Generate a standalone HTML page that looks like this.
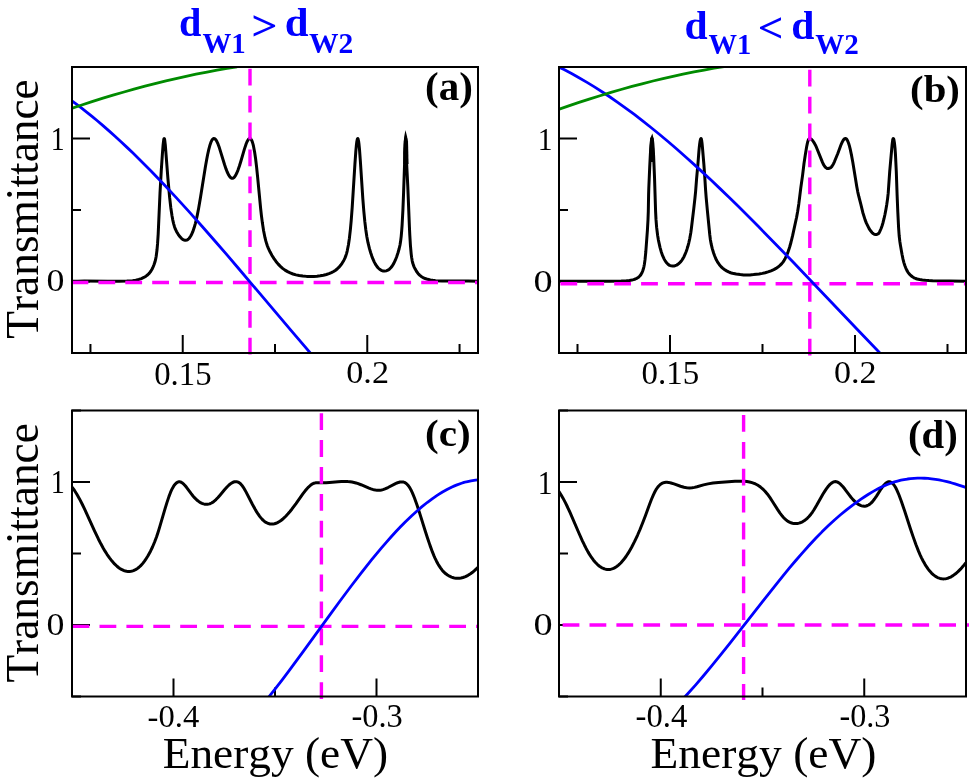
<!DOCTYPE html>
<html><head><meta charset="utf-8"><style>
html,body{margin:0;padding:0;background:#fff;}
body{width:969px;height:778px;overflow:hidden;}
svg{display:block;will-change:transform;}
</style></head><body>
<svg width="969" height="778" viewBox="0 0 969 778">
<rect width="969" height="778" fill="#fff"/>
<defs>
<clipPath id="cla"><rect x="72" y="67" width="406" height="286"/></clipPath>
<clipPath id="clb"><rect x="559" y="67" width="407" height="286"/></clipPath>
<clipPath id="clc"><rect x="72" y="410.5" width="406" height="286.0"/></clipPath>
<clipPath id="cld"><rect x="559" y="410.5" width="407" height="286.0"/></clipPath>
</defs>
<line x1="72" y1="353" x2="81" y2="353" stroke="#000" stroke-width="2"/>
<line x1="72" y1="281.5" x2="90" y2="281.5" stroke="#000" stroke-width="2"/>
<line x1="72" y1="210" x2="81" y2="210" stroke="#000" stroke-width="2"/>
<line x1="72" y1="138.5" x2="90" y2="138.5" stroke="#000" stroke-width="2"/>
<line x1="72" y1="67" x2="81" y2="67" stroke="#000" stroke-width="2"/>
<line x1="90.45" y1="353" x2="90.45" y2="344" stroke="#000" stroke-width="2"/>
<line x1="182.73" y1="353" x2="182.73" y2="335" stroke="#000" stroke-width="2"/>
<line x1="275" y1="353" x2="275" y2="344" stroke="#000" stroke-width="2"/>
<line x1="367.27" y1="353" x2="367.27" y2="335" stroke="#000" stroke-width="2"/>
<line x1="459.55" y1="353" x2="459.55" y2="344" stroke="#000" stroke-width="2"/>
<line x1="559" y1="353" x2="568" y2="353" stroke="#000" stroke-width="2"/>
<line x1="559" y1="281.5" x2="577" y2="281.5" stroke="#000" stroke-width="2"/>
<line x1="559" y1="210" x2="568" y2="210" stroke="#000" stroke-width="2"/>
<line x1="559" y1="138.5" x2="577" y2="138.5" stroke="#000" stroke-width="2"/>
<line x1="559" y1="67" x2="568" y2="67" stroke="#000" stroke-width="2"/>
<line x1="577.5" y1="353" x2="577.5" y2="344" stroke="#000" stroke-width="2"/>
<line x1="670" y1="353" x2="670" y2="335" stroke="#000" stroke-width="2"/>
<line x1="762.5" y1="353" x2="762.5" y2="344" stroke="#000" stroke-width="2"/>
<line x1="855" y1="353" x2="855" y2="335" stroke="#000" stroke-width="2"/>
<line x1="947.5" y1="353" x2="947.5" y2="344" stroke="#000" stroke-width="2"/>
<line x1="72" y1="696.5" x2="81" y2="696.5" stroke="#000" stroke-width="2"/>
<line x1="72" y1="625" x2="90" y2="625" stroke="#000" stroke-width="2"/>
<line x1="72" y1="553.5" x2="81" y2="553.5" stroke="#000" stroke-width="2"/>
<line x1="72" y1="482" x2="90" y2="482" stroke="#000" stroke-width="2"/>
<line x1="72" y1="410.5" x2="81" y2="410.5" stroke="#000" stroke-width="2"/>
<line x1="173.5" y1="696.5" x2="173.5" y2="678.5" stroke="#000" stroke-width="2"/>
<line x1="275" y1="696.5" x2="275" y2="687.5" stroke="#000" stroke-width="2"/>
<line x1="376.5" y1="696.5" x2="376.5" y2="678.5" stroke="#000" stroke-width="2"/>
<line x1="559" y1="696.5" x2="568" y2="696.5" stroke="#000" stroke-width="2"/>
<line x1="559" y1="625" x2="577" y2="625" stroke="#000" stroke-width="2"/>
<line x1="559" y1="553.5" x2="568" y2="553.5" stroke="#000" stroke-width="2"/>
<line x1="559" y1="482" x2="577" y2="482" stroke="#000" stroke-width="2"/>
<line x1="559" y1="410.5" x2="568" y2="410.5" stroke="#000" stroke-width="2"/>
<line x1="660.75" y1="696.5" x2="660.75" y2="678.5" stroke="#000" stroke-width="2"/>
<line x1="762.5" y1="696.5" x2="762.5" y2="687.5" stroke="#000" stroke-width="2"/>
<line x1="864.25" y1="696.5" x2="864.25" y2="678.5" stroke="#000" stroke-width="2"/>
<g clip-path="url(#cla)">
<path d="M70 281.38 L77.8 281.14 L84.4 281.07 L107.8 281.33 L119 281.33 L126.8 281.11 L129.8 280.91 L132.6 280.63 L135.8 280.13 L138.8 279.42 L141.4 278.55 L143.8 277.46 L146 276.17 L147.8 274.76 L149.4 273.12 L150.8 271.25 L152 269.23 L153 267.18 L154 264.73 L155 261.77 L155.6 259.44 L156.2 256.28 L157 250.05 L157.6 243.18 L158.2 233.79 L160 193.23 L161.3 170.18 L162.4 153.93 L163.1 144.95 L163.7 139.89 L164 138.72 L164.2 138.5 L164.4 138.74 L164.7 139.92 L165.3 144.9 L167.9 178.4 L169.6 197.2 L170.8 207.69 L172 215.84 L172.8 220.11 L173.6 223.58 L174.4 226.39 L175.4 229.15 L176.6 231.67 L178.2 234.35 L179.8 236.59 L181.4 238.36 L182.4 239.2 L183.2 239.72 L184.2 240.15 L185 240.32 L185.8 240.32 L186.6 240.15 L187.4 239.79 L188.2 239.23 L189 238.47 L189.8 237.49 L190.6 236.28 L191.4 234.83 L192.8 231.65 L194.2 227.59 L195.4 223.36 L196.4 219.27 L197.4 214.65 L198.6 208.46 L200.6 196.86 L205.4 166.8 L206.6 159.95 L207.6 154.77 L208.8 149.33 L210 144.91 L211.1 141.84 L211.7 140.58 L212.2 139.76 L212.7 139.15 L213.3 138.68 L213.9 138.5 L214.5 138.61 L215.1 138.98 L215.7 139.6 L216.3 140.45 L216.9 141.53 L218 143.98 L219.4 147.83 L224.6 164.77 L226 168.91 L227.2 172 L228.6 174.94 L229.8 176.78 L230.4 177.45 L231 177.94 L231.6 178.23 L232.2 178.34 L232.6 178.3 L233.2 178.09 L233.8 177.68 L234.4 177.1 L235.6 175.39 L236.8 173.04 L238 170.09 L239.4 166.04 L240.8 161.49 L244.4 149.12 L246.2 143.77 L247.3 141.21 L248.3 139.54 L248.8 138.98 L249.2 138.68 L249.7 138.51 L250.1 138.54 L250.7 138.89 L251.3 139.63 L251.9 140.8 L252.4 142.11 L253 144.11 L253.5 146.16 L254.6 151.93 L255.6 158.75 L256.6 167.08 L257.6 176.79 L260.6 208.11 L261.4 215.32 L262.4 223.1 L263.6 230.76 L265 237.7 L265.8 240.88 L266.6 243.6 L267.4 245.94 L268.4 248.43 L270 251.79 L272 255.45 L274 258.66 L276 261.47 L278.2 264.13 L280.4 266.41 L282.6 268.34 L285 270.1 L287.6 271.66 L290.2 272.92 L293 273.98 L296 274.86 L299.2 275.54 L302.8 276.06 L306.6 276.38 L310.4 276.48 L313.8 276.4 L317 276.16 L320.2 275.76 L323.4 275.18 L326.4 274.45 L329 273.64 L331.4 272.67 L333.6 271.53 L335.6 270.22 L337.4 268.75 L339 267.17 L340.6 265.29 L342.2 263.06 L343.8 260.4 L344.8 258.4 L345.8 255.89 L346.6 253.34 L347.2 251.02 L348.4 244.99 L349.4 238.18 L350.4 229.34 L351.2 220.56 L352.2 207.33 L354.9 164.4 L355.8 151.67 L356.3 146.02 L356.8 141.79 L357.3 139.24 L357.5 138.72 L357.7 138.51 L357.9 138.59 L358.1 138.98 L358.6 141.25 L359 144.31 L359.5 149.51 L360.3 160.25 L362.8 198.37 L363.8 211 L364.8 221.42 L365.8 229.79 L366.8 236.44 L368 242.69 L369.4 248.38 L370.6 252.49 L371.8 256.09 L373 259.21 L374.2 261.87 L375.4 264.12 L376.8 266.28 L378.2 267.98 L379.6 269.27 L381.2 270.31 L382.8 270.92 L383.6 271.07 L384.6 271.12 L386.2 270.88 L387.8 270.23 L389.4 269.14 L390.8 267.78 L392.2 266 L393.8 263.36 L395.2 260.46 L396.6 256.93 L398 252.72 L399.2 248.5 L400 244.97 L400.6 241.33 L401.2 236.31 L401.7 230.7 L402.1 225.04 L402.9 210 L403.6 192.46 L405.2 145.74 L405.5 139.83 L405.6 138.81 L405.7 138.51 L405.8 139.05 L406 142.79 L406.7 164.77 L407.8 186.66 L409.4 226.67 L409.8 235.09 L410.4 245.02 L411.2 254.09 L411.6 257.27 L412.2 260.82 L412.8 263.31 L413.4 265.13 L414.2 267.05 L415.2 269.11 L416.6 271.5 L418 273.41 L419.6 275.11 L421.2 276.42 L423 277.53 L425.2 278.53 L427.6 279.31 L430.4 279.95 L432.8 280.33 L435.6 280.64 L442.2 281 L449.6 281.1 L468.2 281.05 L479.8 281.37" fill="none" stroke="#000" stroke-width="3.0" stroke-linejoin="round"/>
<path d="M71.5 282.5 L478 282.5" fill="none" stroke="#ff00ff" stroke-width="3.4" stroke-linejoin="round" stroke-dasharray="16.8 10.1"/>
</g>
<path d="M250 68.8 L250 356" fill="none" stroke="#ff00ff" stroke-width="3.4" stroke-linejoin="round" stroke-dasharray="16.8 10.1"/>
<g clip-path="url(#cla)">
<path d="M70 99.46 L75 103.12 L81 107.65 L86 111.55 L92 116.38 L97 120.51 L103 125.61 L109 130.85 L115 136.22 L121 141.73 L127 147.36 L133 153.11 L139 158.97 L151 171.03 L164 184.54 L176 197.38 L189 211.65 L202 226.23 L216 242.22 L227 254.96 L239 268.99 L291 330.39 L315 358.42" fill="none" stroke="#0000ff" stroke-width="2.8" stroke-linejoin="round"/>
<path d="M70 108.91 L81 105.22 L92 101.66 L103 98.21 L113 95.18 L124 91.97 L134 89.17 L145 86.2 L155 83.62 L166 80.91 L176 78.57 L186 76.34 L196 74.22 L207 72.02 L217 70.15 L227 68.4 L237 66.77" fill="none" stroke="#008b00" stroke-width="2.8" stroke-linejoin="round"/>
<polygon points="403.3,164 403.2,151.7 403.7,141.4 404.3,136.3 405.4,130.1 407,136.3 408,141.4 408.3,151.7 408.5,164" fill="#000"/>
</g>
<g clip-path="url(#clb)">
<path d="M557 281.3 L610.2 281.14 L621.2 280.99 L626.4 280.71 L629.4 280.41 L631.8 280.07 L633.6 279.63 L635.4 278.99 L637.2 278.1 L638.6 277.15 L639.8 276.01 L641 274.47 L641.8 273.11 L642.6 271.27 L643.4 268.77 L644 266.35 L644.4 264.19 L645 259.9 L645.8 251.99 L647.4 230.4 L648 219.73 L648.3 211.5 L648.6 194.9 L648.8 188.32 L649.7 167.42 L650.3 155.38 L650.8 147.28 L651.2 142.52 L651.6 139.53 L651.8 138.76 L652 138.5 L652.2 138.77 L652.4 139.58 L652.8 142.88 L653.2 148.32 L653.6 155.55 L654.5 177.04 L655.6 211.5 L656 219.38 L656.6 227.14 L657.6 235.26 L658.4 240.11 L660 247.31 L661.2 251.68 L662.6 255.71 L664.2 259.12 L665 260.55 L665.8 261.78 L666.6 262.79 L668 264.24 L668.8 264.91 L669.6 265.38 L671.2 265.88 L672.6 266.1 L673.8 266 L675 265.68 L676.6 265.08 L677.8 264.38 L679.2 263.25 L680.8 261.65 L682 260.07 L683.2 258.15 L684 256.67 L685 254.49 L686.2 251.47 L687 249.18 L687.8 246.56 L688.8 242.77 L689.8 238.31 L690.8 232.75 L691.4 228.28 L693.8 208.33 L695 197.67 L695.6 191.6 L696.6 178.63 L697.9 164.48 L698.9 151.38 L699.3 147.08 L699.7 143.66 L700.1 141.07 L700.5 139.33 L700.7 138.81 L700.9 138.54 L701.1 138.54 L701.3 138.86 L701.6 140.03 L702 142.91 L702.4 146.91 L703.9 164.64 L704.8 177.4 L705.6 190.18 L706.2 197.89 L707.4 210.98 L709.8 234.98 L710.4 239.75 L711.2 244.17 L712.2 248.42 L713.6 253.01 L714.6 255.8 L715.6 258.25 L716.6 260.35 L717.8 262.45 L719.4 264.71 L721 266.6 L722.6 268.15 L724.4 269.5 L726.6 270.87 L728.6 271.92 L730.6 272.75 L732.4 273.3 L736.2 274.02 L740.2 274.59 L743.6 274.9 L746.8 275 L750 274.91 L753.6 274.61 L759 273.94 L762.4 273.39 L765.2 272.74 L768 271.9 L771 270.8 L773.8 269.59 L776 268.39 L778 267.05 L780 265.4 L781.8 263.61 L782.8 262.4 L784 260.59 L785.2 258.43 L786.4 255.94 L787.6 253.14 L788.6 250.36 L789.8 246.52 L791 242.26 L792.6 235.63 L796.6 217.28 L797.6 211.83 L798.8 203.91 L800.8 187.9 L802.6 175.12 L804 163.55 L805.2 155.57 L806.6 147.05 L807.4 143.1 L807.9 141.23 L808.4 139.8 L808.9 138.92 L809.4 138.55 L809.9 138.52 L810.4 138.67 L811 139.03 L811.6 139.51 L812.8 140.77 L814 142.55 L815.2 144.68 L816.4 147.22 L822.4 162.16 L823.4 164.36 L824.6 166.22 L825.6 167.42 L826 167.76 L826.8 168.27 L827.4 168.54 L827.8 168.6 L828.4 168.54 L829.2 168.32 L830.2 167.87 L831 167.39 L831.4 167 L832 166.22 L833.4 163.92 L834.4 161.78 L837.8 153.45 L841.2 144.32 L842.3 141.89 L843.2 140.3 L844.2 139.07 L844.7 138.7 L845.1 138.54 L845.6 138.52 L846 138.65 L846.5 139.03 L846.9 139.51 L847.7 140.92 L848.6 143.26 L849.4 145.94 L850.4 149.95 L851.6 155.65 L852.8 162.15 L856.8 186.67 L857.8 192.08 L858.8 196.47 L860.8 204.19 L862.8 212.47 L865.2 220.11 L866.4 223.14 L869 228.38 L869.6 229.4 L870.6 230.82 L872.2 232.76 L872.8 233.32 L873.4 233.74 L874.6 234.36 L875.4 234.59 L876.2 234.55 L877 234.32 L878 233.87 L878.6 233.46 L879 232.95 L879.6 231.88 L881 228.74 L882 225.99 L883 222.7 L884 218.74 L885 214.2 L886 208.97 L886.8 204.23 L887.6 198.59 L888.2 193.2 L889.7 171.7 L892.1 144.61 L892.7 140 L893 138.86 L893.1 138.66 L893.3 138.5 L893.6 138.82 L893.9 139.75 L894.5 143.32 L895 148.2 L895.5 155.2 L896.3 171.77 L897.1 194.7 L897.8 211.86 L898.6 227.85 L899.2 236.04 L899.8 241.2 L900.4 245.13 L902 254.27 L903 259.17 L903.8 262.37 L904.8 265.47 L905.8 268.07 L907 270.62 L908 272.32 L909.2 273.89 L910.8 275.48 L912.4 276.77 L914 277.77 L915.6 278.51 L917.2 279.01 L919.6 279.49 L922.4 279.91 L925.4 280.24 L928.8 280.5 L932.6 280.68 L949.4 281.08 L967.8 281.2" fill="none" stroke="#000" stroke-width="3.0" stroke-linejoin="round"/>
<path d="M560.4 283.8 L966 283.8" fill="none" stroke="#ff00ff" stroke-width="3.4" stroke-linejoin="round" stroke-dasharray="16.8 10.1"/>
</g>
<path d="M809.8 69.8 L809.8 356" fill="none" stroke="#ff00ff" stroke-width="3.4" stroke-linejoin="round" stroke-dasharray="16.8 10.1"/>
<g clip-path="url(#clb)">
<path d="M557 66.15 L564 69.61 L572 73.8 L579 77.68 L587 82.34 L594 86.61 L602 91.7 L610 97.02 L618 102.56 L626 108.3 L634 114.24 L642 120.38 L651 127.49 L659 134.01 L668 141.54 L677 149.27 L686 157.19 L694 164.38 L703 172.63 L711 180.1 L720 188.64 L729 197.31 L738 206.12 L748 216.03 L758 226.08 L775 243.4 L794 263.06 L813 282.92 L860 332.29 L885 358.28" fill="none" stroke="#0000ff" stroke-width="2.8" stroke-linejoin="round"/>
<path d="M557 109.98 L568 106.15 L579 102.44 L590 98.87 L600 95.73 L611 92.41 L621 89.51 L632 86.45 L642 83.8 L653 81.01 L663 78.6 L673 76.31 L683 74.15 L694 71.91 L704 70.01 L714 68.24 L724 66.59" fill="none" stroke="#008b00" stroke-width="2.8" stroke-linejoin="round"/>
<polygon points="649,162 649.5,148.6 650.3,138.3 652.3,133.4 653.5,138.3 654.1,148.6 654.5,162" fill="#000"/>
</g>
<g clip-path="url(#clc)">
<path d="M70 484.83 L72 487.07 L73 488.35 L74.5 490.46 L77 494.43 L79.5 498.9 L82 503.76 L84.5 508.92 L94.5 530.81 L98.5 539.21 L101 544.09 L103 547.74 L105 551.14 L107 554.3 L109.5 557.89 L112 561.09 L114.5 563.88 L117 566.25 L118.5 567.46 L119.5 568.19 L121 569.15 L122 569.7 L123.5 570.39 L124.5 570.76 L126.5 571.28 L128 571.47 L129.5 571.48 L131 571.32 L132 571.11 L133.5 570.63 L135 569.97 L136.5 569.12 L137.5 568.44 L139 567.26 L140.5 565.87 L142 564.28 L143 563.1 L144.5 561.15 L145.5 559.73 L148 555.76 L150.5 551.16 L152.5 546.99 L154.5 542.27 L156.5 536.92 L158 532.45 L159.5 527.65 L165 508.9 L167 502.36 L169 496.39 L170.5 492.46 L171.5 490.17 L172.5 488.15 L173.5 486.41 L174.5 484.95 L175.5 483.77 L176.5 482.87 L177.5 482.24 L178 482.03 L179 481.81 L180 481.87 L180.5 482 L181.5 482.43 L182.5 483.08 L184 484.4 L185 485.47 L186.5 487.29 L191 493.4 L193 495.95 L194.5 497.66 L195.5 498.7 L197.5 500.53 L199 501.67 L200 502.33 L201 502.89 L202 503.37 L203.5 503.9 L204.5 504.14 L205.5 504.28 L206.5 504.32 L207.5 504.27 L208.5 504.11 L209.5 503.84 L210.5 503.47 L211.5 503 L212.5 502.41 L213.5 501.72 L214.5 500.92 L216 499.54 L218 497.45 L220 495.16 L224.5 489.78 L227 487 L229 485.04 L231 483.44 L232 482.8 L233 482.29 L234.5 481.79 L235.5 481.64 L236.5 481.67 L237.5 481.88 L238 482.06 L239 482.57 L239.5 482.91 L240.5 483.74 L242 485.43 L243.5 487.58 L244.5 489.21 L246 491.89 L252.5 504.49 L255 509.08 L256.5 511.62 L258 513.96 L259.5 516.09 L260.5 517.38 L262 519.11 L263 520.11 L264.5 521.39 L266 522.41 L267 522.95 L268.5 523.55 L270 523.92 L271.5 524.07 L273 524 L274.5 523.73 L276 523.27 L277.5 522.62 L279 521.8 L281 520.45 L282.5 519.26 L284.5 517.47 L286 515.98 L288 513.81 L290 511.47 L292 508.96 L296 503.59 L303 493.69 L305 491.05 L306.5 489.22 L308.5 487.04 L310.5 485.24 L311.5 484.51 L312.5 483.9 L314 483.23 L315.5 482.85 L317 482.68 L318.5 482.65 L322.5 482.74 L326 482.66 L329.5 482.45 L338 481.76 L341.5 481.56 L346 481.52 L348 481.62 L350 481.79 L352 482.07 L354 482.45 L356 482.95 L357.5 483.41 L361 484.73 L369 488.16 L371 488.9 L372.5 489.38 L374 489.78 L375.5 490.08 L377 490.26 L378.5 490.32 L380 490.24 L381.5 489.99 L383 489.61 L385 488.9 L388 487.54 L395.5 483.67 L397 482.99 L398.5 482.43 L400 482.03 L401 481.88 L402.5 481.9 L403.5 482.09 L404.5 482.44 L405 482.69 L406 483.33 L407 484.17 L408 485.25 L409 486.57 L410 488.15 L411 489.98 L412.5 493.13 L414.5 498.01 L417 504.97 L419.5 512.6 L425 530.2 L427.5 538 L430 545.38 L432.5 552.15 L434 555.83 L435 558.11 L436.5 561.22 L438 564 L439 565.68 L440.5 567.94 L442 569.92 L443.5 571.64 L445.5 573.55 L447.5 575.06 L449.5 576.24 L451.5 577.11 L453.5 577.73 L454.5 577.95 L456 578.17 L457 578.24 L458.5 578.24 L459.5 578.16 L461 577.95 L463 577.47 L465.5 576.56 L468 575.31 L470.5 573.75 L472.5 572.27 L475 570.15 L477.5 567.73 L480 565.03" fill="none" stroke="#000" stroke-width="3.0" stroke-linejoin="round"/>
<path d="M72.6 626.4 L478 626.4" fill="none" stroke="#ff00ff" stroke-width="3.4" stroke-linejoin="round" stroke-dasharray="16.8 10.1"/>
</g>
<path d="M321.4 413.2 L321.4 700" fill="none" stroke="#ff00ff" stroke-width="3.4" stroke-linejoin="round" stroke-dasharray="16.8 10.1"/>
<g clip-path="url(#clc)">
<path d="M262 705.31 L268.5 697.31 L275 689.09 L282 680.02 L289.5 670.1 L303.5 651.16 L329.5 615.38 L340 601.04 L351 586.28 L360.5 573.85 L366 566.83 L371.5 559.95 L376.5 553.84 L381.5 547.88 L386.5 542.08 L391 537.01 L396 531.55 L400.5 526.81 L406 521.25 L411.5 515.95 L417 510.95 L422 506.67 L427.5 502.27 L432.5 498.56 L437.5 495.14 L442.5 492.03 L447.5 489.24 L452 487.01 L454.5 485.9 L457 484.86 L461.5 483.23 L464 482.46 L466.5 481.77 L471 480.78 L475.5 480.11 L478 479.87 L480 479.76" fill="none" stroke="#0000ff" stroke-width="2.8" stroke-linejoin="round"/>
</g>
<g clip-path="url(#cld)">
<path d="M557 489.12 L559 491.69 L561 494.71 L563 498.14 L565.5 502.91 L567.5 507.03 L570 512.49 L579 533.26 L582.5 541.03 L584.5 545.22 L586 548.18 L588 551.87 L589.5 554.4 L591.5 557.47 L593.5 560.19 L595.5 562.55 L597.5 564.56 L599.5 566.23 L601.5 567.55 L603.5 568.52 L604.5 568.88 L606 569.26 L607 569.41 L608.5 569.47 L609.5 569.41 L611 569.15 L612 568.88 L613.5 568.31 L614.5 567.83 L616 566.96 L617 566.27 L618.5 565.09 L619.5 564.2 L621 562.71 L623.5 559.84 L626 556.48 L628.5 552.66 L631.5 547.48 L634.5 541.68 L637.5 535.27 L640 529.5 L643 522.06 L645.5 515.46 L649.5 504.48 L651.5 499.26 L653.5 494.54 L655 491.48 L656 489.71 L657.5 487.48 L658.5 486.24 L660 484.75 L661.5 483.65 L663 482.89 L664.5 482.44 L666 482.25 L667 482.25 L668.5 482.4 L671 482.96 L674 483.92 L680.5 486.22 L684 487.25 L685.5 487.58 L687 487.82 L689.5 487.98 L692 487.8 L694.5 487.37 L697 486.74 L703.5 484.88 L708 483.87 L713 483.07 L718.5 482.48 L735 481.32 L738 481.17 L741 481.13 L744 481.22 L747 481.5 L749.5 481.94 L752 482.59 L754 483.31 L755.5 483.97 L757.5 485.03 L759 485.97 L760.5 487.06 L762 488.29 L763.5 489.67 L765 491.22 L767.5 494.2 L770 497.67 L772 500.71 L777.5 509.39 L780 513.08 L782.5 516.33 L783.5 517.47 L785 518.98 L786 519.85 L787.5 520.98 L788.5 521.61 L790 522.38 L791 522.78 L792.5 523.22 L794 523.48 L795.5 523.56 L797.5 523.42 L799 523.12 L801 522.46 L802.5 521.77 L804.5 520.55 L806 519.41 L807.5 518.07 L809 516.52 L810.5 514.76 L811.5 513.45 L812.5 512.05 L814 509.76 L816.5 505.57 L823 494.08 L825 490.84 L826.5 488.61 L828.5 486.01 L830 484.39 L831.5 483.1 L833 482.18 L834 481.8 L834.5 481.69 L835.5 481.61 L836 481.65 L836.5 481.75 L837.5 482.1 L838.5 482.63 L839.5 483.33 L841 484.65 L843 486.81 L845 489.31 L849 494.7 L851 497.28 L853 499.62 L855 501.66 L856.5 502.96 L857.5 503.72 L858.5 504.39 L859.5 504.96 L861 505.62 L862 505.92 L863 506.12 L864 506.2 L865 506.15 L866 505.99 L867.5 505.5 L868.5 505 L869.5 504.37 L871 503.15 L872.5 501.6 L874.5 499.03 L876.5 496.07 L881 489.06 L882.5 486.93 L884 485.05 L885.5 483.51 L886.5 482.72 L887 482.4 L888 481.95 L888.5 481.82 L889.5 481.76 L890 481.83 L890.5 481.98 L891.5 482.49 L892.5 483.28 L893.5 484.35 L894 485 L895 486.49 L896 488.26 L897 490.3 L899 495.04 L901.5 501.8 L904.5 510.58 L910.5 528.93 L913 536.39 L916 544.81 L918.5 551.15 L920 554.61 L921.5 557.82 L923 560.78 L925 564.33 L926.5 566.73 L928 568.88 L929.5 570.82 L931.5 573.05 L933.5 574.9 L935.5 576.38 L937.5 577.51 L938.5 577.94 L940 578.44 L942 578.82 L944 578.88 L946 578.64 L947 578.42 L948.5 577.95 L950.5 577.09 L951.5 576.56 L953 575.65 L955.5 573.83 L958 571.66 L960.5 569.17 L963 566.37 L965.5 563.3 L968 559.98" fill="none" stroke="#000" stroke-width="3.0" stroke-linejoin="round"/>
</g>
<path d="M562.6 625 L970 625" fill="none" stroke="#ff00ff" stroke-width="3.4" stroke-linejoin="round" stroke-dasharray="16.8 10.1"/>
<g clip-path="url(#cld)">
</g>
<path d="M743.6 415 L743.6 700" fill="none" stroke="#ff00ff" stroke-width="3.4" stroke-linejoin="round" stroke-dasharray="16.8 10.1"/>
<g clip-path="url(#cld)">
<path d="M680 702.04 L687.5 694.01 L695.5 685.06 L703.5 675.76 L712.5 664.96 L721 654.48 L730 643.17 L762.5 601.56 L776 584.52 L783 575.86 L789.5 567.98 L796 560.27 L802 553.34 L809 545.52 L815.5 538.54 L822 531.86 L828.5 525.51 L834.5 519.97 L840.5 514.77 L846.5 509.89 L853 504.93 L861 499.21 L865 496.5 L868.5 494.24 L872 492.1 L875 490.38 L878 488.76 L881.5 487.03 L884.5 485.66 L888 484.22 L891 483.1 L894.5 481.95 L897.5 481.08 L901 480.21 L904 479.59 L907.5 479.01 L910.5 478.63 L914 478.33 L917.5 478.17 L921 478.14 L924.5 478.24 L928 478.47 L931.5 478.82 L935.5 479.36 L939 479.95 L943 480.75 L947 481.67 L951 482.72 L955 483.88 L959.5 485.31 L963.5 486.68 L968 488.32" fill="none" stroke="#0000ff" stroke-width="2.8" stroke-linejoin="round"/>
</g>
<rect x="72" y="67" width="406" height="286" fill="none" stroke="#000" stroke-width="2"/>
<rect x="559" y="67" width="407" height="286" fill="none" stroke="#000" stroke-width="2"/>
<rect x="72" y="410.5" width="406" height="286.0" fill="none" stroke="#000" stroke-width="2"/>
<rect x="559" y="410.5" width="407" height="286.0" fill="none" stroke="#000" stroke-width="2"/>
<text transform="translate(50.65,149.80) scale(0.8430,1)" font-family='"Liberation Serif", serif' font-size="33.02" fill="#000" style="font-kerning:none">1</text>
<text transform="translate(46.43,291.38) scale(1.1051,1)" font-family='"Liberation Serif", serif' font-size="32.45" fill="#000" style="font-kerning:none">0</text>
<text transform="translate(537.80,150.10) scale(0.9156,1)" font-family='"Liberation Serif", serif' font-size="32.27" fill="#000" style="font-kerning:none">1</text>
<text transform="translate(533.54,292.08) scale(1.1724,1)" font-family='"Liberation Serif", serif' font-size="32.60" fill="#000" style="font-kerning:none">0</text>
<text transform="translate(50.63,493.10) scale(0.8438,1)" font-family='"Liberation Serif", serif' font-size="33.33" fill="#000" style="font-kerning:none">1</text>
<text transform="translate(46.43,634.88) scale(1.1051,1)" font-family='"Liberation Serif", serif' font-size="32.45" fill="#000" style="font-kerning:none">0</text>
<text transform="translate(537.80,493.50) scale(0.8905,1)" font-family='"Liberation Serif", serif' font-size="33.17" fill="#000" style="font-kerning:none">1</text>
<text transform="translate(533.54,635.48) scale(1.1778,1)" font-family='"Liberation Serif", serif' font-size="32.45" fill="#000" style="font-kerning:none">0</text>
<text transform="translate(154.15,384.63) scale(0.9907,1)" font-family='"Liberation Serif", serif' font-size="33.13" fill="#000" style="font-kerning:none">0.15</text>
<text transform="translate(346.30,383.44) scale(1.0495,1)" font-family='"Liberation Serif", serif' font-size="32.54" fill="#000" style="font-kerning:none">0.2</text>
<text transform="translate(641.55,384.44) scale(1.0032,1)" font-family='"Liberation Serif", serif' font-size="32.83" fill="#000" style="font-kerning:none">0.15</text>
<text transform="translate(833.90,383.44) scale(1.0468,1)" font-family='"Liberation Serif", serif' font-size="32.54" fill="#000" style="font-kerning:none">0.2</text>
<text transform="translate(147.59,727.44) scale(1.0022,1)" font-family='"Liberation Serif", serif' font-size="32.54" fill="#000" style="font-kerning:none">-0.4</text>
<text transform="translate(351.40,727.44) scale(0.9884,1)" font-family='"Liberation Serif", serif' font-size="32.83" fill="#000" style="font-kerning:none">-0.3</text>
<text transform="translate(635.49,727.44) scale(0.9972,1)" font-family='"Liberation Serif", serif' font-size="32.83" fill="#000" style="font-kerning:none">-0.4</text>
<text transform="translate(839.51,727.44) scale(0.9803,1)" font-family='"Liberation Serif", serif' font-size="32.83" fill="#000" style="font-kerning:none">-0.3</text>
<text transform="translate(425.00,99.79) scale(1.0501,1)" font-family='"Liberation Serif", serif' font-weight="bold" font-size="39.04" fill="#000" style="font-kerning:none">(a)</text>
<text transform="translate(910.11,101.66) scale(1.0522,1)" font-family='"Liberation Serif", serif' font-weight="bold" font-size="38.71" fill="#000" style="font-kerning:none">(b)</text>
<text transform="translate(424.99,445.66) scale(1.0617,1)" font-family='"Liberation Serif", serif' font-weight="bold" font-size="38.71" fill="#000" style="font-kerning:none">(c)</text>
<text transform="translate(908.01,447.67) scale(1.0426,1)" font-family='"Liberation Serif", serif' font-weight="bold" font-size="39.15" fill="#000" style="font-kerning:none">(d)</text>
<text transform="translate(179.07,36.41) scale(1.0114,1)" font-family='"Liberation Serif", serif' font-weight="bold" font-size="39.79" fill="#0000ff" style="font-kerning:none">d</text>
<text transform="translate(202.39,52.55) scale(0.9651,1)" font-family='"Liberation Serif", serif' font-weight="bold" font-size="29.91" fill="#0000ff" style="font-kerning:none">W1</text>
<text transform="translate(251.35,40.19) scale(1.1045,1)" font-family='"Liberation Serif", serif' font-weight="bold" font-size="41.88" fill="#0000ff" style="font-kerning:none">&gt;</text>
<text transform="translate(284.86,36.41) scale(1.0839,1)" font-family='"Liberation Serif", serif' font-weight="bold" font-size="39.51" fill="#0000ff" style="font-kerning:none">d</text>
<text transform="translate(308.88,52.55) scale(0.9899,1)" font-family='"Liberation Serif", serif' font-weight="bold" font-size="29.83" fill="#0000ff" style="font-kerning:none">W2</text>
<text transform="translate(684.51,38.61) scale(1.0538,1)" font-family='"Liberation Serif", serif' font-weight="bold" font-size="39.51" fill="#0000ff" style="font-kerning:none">d</text>
<text transform="translate(708.50,54.45) scale(0.9678,1)" font-family='"Liberation Serif", serif' font-weight="bold" font-size="29.47" fill="#0000ff" style="font-kerning:none">W1</text>
<text transform="translate(757.75,42.39) scale(1.0788,1)" font-family='"Liberation Serif", serif' font-weight="bold" font-size="41.88" fill="#0000ff" style="font-kerning:none">&lt;</text>
<text transform="translate(791.21,38.61) scale(1.0538,1)" font-family='"Liberation Serif", serif' font-weight="bold" font-size="39.51" fill="#0000ff" style="font-kerning:none">d</text>
<text transform="translate(815.19,54.46) scale(0.9906,1)" font-family='"Liberation Serif", serif' font-weight="bold" font-size="29.38" fill="#0000ff" style="font-kerning:none">W2</text>
<text transform="translate(162.69,767.80) scale(1.0012,1)" font-family='"Liberation Serif", serif' font-size="45.30" fill="#000" style="font-kerning:none">Energy (eV)</text>
<text transform="translate(650.39,767.80) scale(1.0048,1)" font-family='"Liberation Serif", serif' font-size="45.30" fill="#000" style="font-kerning:none">Energy (eV)</text>
<text transform="translate(37.90,338.72) rotate(-90) scale(0.9993,1)" font-family='"Liberation Serif", serif' font-size="45.40" fill="#000" style="font-kerning:none">Transmittance</text>
<text transform="translate(37.90,682.62) rotate(-90) scale(0.9993,1)" font-family='"Liberation Serif", serif' font-size="45.40" fill="#000" style="font-kerning:none">Transmittance</text>
</svg>
</body></html>
